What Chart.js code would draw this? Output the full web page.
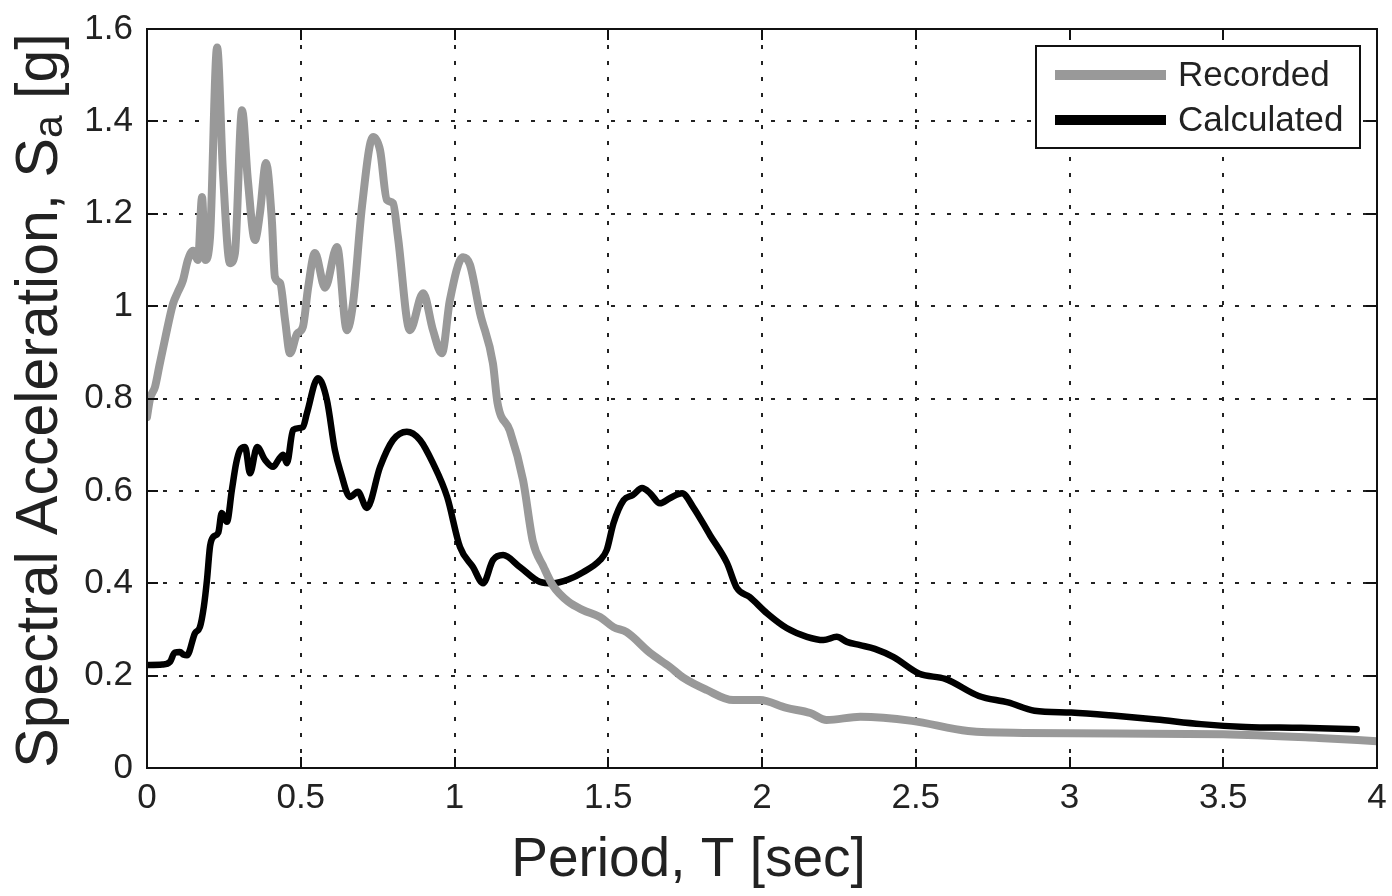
<!DOCTYPE html>
<html>
<head>
<meta charset="utf-8">
<title>Response spectra</title>
<script src="https://cdn.jsdelivr.net/npm/chart.js@4.4.0/dist/chart.umd.min.js"></script>
<style>
  html, body { margin: 0; padding: 0; background: #fff; }
  #wrap { width: 1392px; height: 896px; }
</style>
</head>
<body>
<div id="wrap"><canvas id="spectra" width="1392" height="896"></canvas></div>
<script>
// period [sec] and spectral acceleration [g], recorded motion
const recordedT = [
  0, 0.01, 0.026, 0.04, 0.059, 0.085, 0.1, 0.117, 0.133, 0.15, 0.166, 0.179, 0.189, 0.205,
  0.228, 0.247, 0.27, 0.286, 0.309, 0.328, 0.351, 0.367, 0.387, 0.406, 0.416, 0.433, 0.449,
  0.465, 0.488, 0.507, 0.524, 0.546, 0.579, 0.618, 0.65, 0.67, 0.699, 0.735, 0.758, 0.78,
  0.8, 0.816, 0.855, 0.898, 0.93, 0.959, 0.985, 1.028, 1.05, 1.083, 1.125, 1.14, 1.18, 1.223,
  1.255, 1.29, 1.32, 1.37, 1.418, 1.473, 1.517, 1.56, 1.636, 1.7, 1.745, 1.82, 1.906, 1.993,
  2.08, 2.157, 2.21, 2.32, 2.488, 2.67, 2.85, 3.5, 3.81, 4.0
];
const recordedSa = [
  0.76, 0.8, 0.825, 0.87, 0.93, 1.006, 1.03, 1.056, 1.1, 1.12, 1.1, 1.236, 1.1, 1.15,
  1.56, 1.29, 1.093, 1.115, 1.424, 1.273, 1.143, 1.2, 1.31, 1.186, 1.063, 1.05, 0.97,
  0.898, 0.94, 0.955, 1.04, 1.115, 1.04, 1.128, 0.948, 1.006, 1.215, 1.366, 1.337, 1.23,
  1.223, 1.15, 0.948, 1.028, 0.948, 0.898, 1.013, 1.106, 1.09, 0.985, 0.876, 0.79, 0.73, 0.623,
  0.49, 0.435, 0.395, 0.36, 0.342, 0.327, 0.305, 0.294, 0.249, 0.219, 0.195, 0.169, 0.147, 0.147,
  0.13, 0.119, 0.104, 0.111, 0.102, 0.08, 0.076, 0.073, 0.065, 0.058
];

// calculated response
const calculatedT = [
  0, 0.05, 0.075, 0.09, 0.107, 0.12, 0.13, 0.156, 0.172, 0.185, 0.195, 0.205, 0.215, 0.232,
  0.243, 0.26, 0.276, 0.29, 0.302, 0.319, 0.335, 0.358, 0.384, 0.41, 0.43, 0.443, 0.455,
  0.475, 0.507, 0.52, 0.556, 0.585, 0.611, 0.63, 0.66, 0.686, 0.715, 0.758, 0.8, 0.845,
  0.888, 0.93, 0.976, 1.018, 1.06, 1.093, 1.125, 1.158, 1.213, 1.278, 1.32, 1.37, 1.418,
  1.473, 1.495, 1.517, 1.55, 1.58, 1.61, 1.636, 1.668, 1.7, 1.74, 1.776, 1.831, 1.886,
  1.918, 1.96, 2.016, 2.08, 2.146, 2.2, 2.243, 2.276, 2.319, 2.367, 2.428, 2.512, 2.596,
  2.705, 2.8, 2.886, 3.006, 3.15, 3.283, 3.428, 3.572, 3.753, 3.934
];
const calculatedSa = [
  0.223, 0.224, 0.23, 0.25, 0.251, 0.245, 0.244, 0.292, 0.305, 0.35, 0.407, 0.48, 0.5, 0.51,
  0.552, 0.533, 0.602, 0.66, 0.688, 0.695, 0.638, 0.695, 0.667, 0.652, 0.67, 0.678, 0.66,
  0.732, 0.738, 0.768, 0.844, 0.797, 0.688, 0.64, 0.587, 0.598, 0.563, 0.652, 0.71, 0.728,
  0.71, 0.66, 0.587, 0.478, 0.435, 0.4, 0.45, 0.461, 0.435, 0.403, 0.4, 0.408, 0.424,
  0.45, 0.472, 0.53, 0.58, 0.591, 0.606, 0.595, 0.573, 0.584, 0.595, 0.565, 0.504, 0.444,
  0.39, 0.37, 0.335, 0.303, 0.284, 0.277, 0.284, 0.273, 0.266, 0.258, 0.24, 0.204, 0.193,
  0.156, 0.142, 0.124, 0.12, 0.113, 0.105, 0.095, 0.089, 0.087, 0.084
];

const periodTicks = [0, 0.5, 1, 1.5, 2, 2.5, 3, 3.5, 4];
const accelTicks = [0, 0.2, 0.4, 0.6, 0.8, 1, 1.2, 1.4, 1.6];

const FONT = "'Liberation Sans', Arial, Helvetica, sans-serif";

const toPoints = (xs, ys) => xs.map((x, i) => ({ x, y: ys[i] }));

// matlab-like frame with inward ticks on all four sides
const boxFrame = {
  id: 'boxFrame',
  afterDraw(chart) {
    const { ctx, chartArea: a, scales } = chart;
    const len = 11;
    ctx.save();
    ctx.strokeStyle = '#111';
    ctx.lineWidth = 2;
    ctx.beginPath();
    periodTicks.forEach(v => {
      const px = Math.round(scales.x.getPixelForValue(v));
      ctx.moveTo(px, a.bottom); ctx.lineTo(px, a.bottom - len);
      ctx.moveTo(px, a.top); ctx.lineTo(px, a.top + len);
    });
    accelTicks.forEach(v => {
      const py = Math.round(scales.y.getPixelForValue(v));
      ctx.moveTo(a.left, py); ctx.lineTo(a.left + len, py);
      ctx.moveTo(a.right, py); ctx.lineTo(a.right - len, py);
    });
    ctx.stroke();
    ctx.strokeRect(a.left, a.top, a.right - a.left, a.bottom - a.top);
    ctx.restore();
  }
};

// boxed legend in the top right corner
const boxLegend = {
  id: 'boxLegend',
  afterDraw(chart) {
    const { ctx, chartArea: a } = chart;
    const w = 324, h = 102;
    const x0 = a.right - 17 - w, y0 = a.top + 17;
    ctx.save();
    ctx.fillStyle = '#fff';
    ctx.fillRect(x0, y0, w, h);
    ctx.strokeStyle = '#111';
    ctx.lineWidth = 2;
    ctx.strokeRect(x0, y0, w, h);
    ctx.font = '35px ' + FONT;
    ctx.textBaseline = 'middle';
    chart.data.datasets.forEach((ds, i) => {
      const y = y0 + 29 + i * 45;
      ctx.strokeStyle = ds.borderColor;
      ctx.lineWidth = 10;
      ctx.beginPath();
      ctx.moveTo(x0 + 19, y);
      ctx.lineTo(x0 + 130, y);
      ctx.stroke();
      ctx.fillStyle = '#222';
      ctx.fillText(ds.label, x0 + 142, y + 1);
    });
    ctx.restore();
  }
};

// vertical axis title with a subscript "a"
const yTitle = {
  id: 'yTitle',
  afterDraw(chart) {
    const { ctx, chartArea: a } = chart;
    const big = '59px ' + FONT, small = '41px ' + FONT;
    const parts = [
      { t: 'Spectral Acceleration, S', f: big, dy: 0 },
      { t: 'a', f: small, dy: 5 },
      { t: ' [g]', f: big, dy: 0 }
    ];
    let total = 0;
    parts.forEach(p => { ctx.font = p.f; p.w = ctx.measureText(p.t).width; total += p.w; });
    ctx.save();
    ctx.translate(57, (a.top + a.bottom) / 2 + 2);
    ctx.rotate(-Math.PI / 2);
    ctx.fillStyle = '#222';
    ctx.textBaseline = 'alphabetic';
    let x = -total / 2;
    parts.forEach(p => { ctx.font = p.f; ctx.fillText(p.t, x, p.dy); x += p.w; });
    ctx.restore();
  }
};

const fmt = v => String(Math.round(v * 10) / 10);

new Chart(document.getElementById('spectra'), {
  type: 'line',
  data: {
    datasets: [
      {
        label: 'Recorded',
        data: toPoints(recordedT, recordedSa),
        borderColor: '#999999',
        borderWidth: 8,
        borderJoinStyle: 'round',
        borderCapStyle: 'round',
        pointRadius: 0,
        cubicInterpolationMode: 'monotone'
      },
      {
        label: 'Calculated',
        data: toPoints(calculatedT, calculatedSa),
        borderColor: '#000000',
        borderWidth: 6.5,
        borderJoinStyle: 'round',
        borderCapStyle: 'round',
        pointRadius: 0,
        cubicInterpolationMode: 'monotone'
      }
    ]
  },
  options: {
    responsive: false,
    animation: false,
    devicePixelRatio: 1,
    layout: { padding: { left: 0, top: 29, right: 15, bottom: 0 } },
    scales: {
      x: {
        type: 'linear',
        min: 0,
        max: 4,
        afterBuildTicks: s => { s.ticks = periodTicks.map(value => ({ value })); },
        afterFit: s => {
          s.height = 60;
          // labels at the ends may overhang the frame
          s.paddingLeft = 0;
          s.paddingRight = 0;
        },
        grid: { color: '#222', lineWidth: 2, drawTicks: false },
        border: { display: false, dash: [4, 12] },
        ticks: {
          font: { family: FONT, size: 35 },
          color: '#222',
          padding: 9,
          maxRotation: 0,
          autoSkip: false,
          callback: v => fmt(v)
        }
      },
      y: {
        min: 0,
        max: 1.6,
        afterBuildTicks: s => { s.ticks = accelTicks.map(value => ({ value })); },
        afterFit: s => {
          s.width = 147;
          s.paddingTop = 0;
          s.paddingBottom = 0;
        },
        grid: { color: '#222', lineWidth: 2, drawTicks: false },
        border: { display: false, dash: [4, 12] },
        ticks: {
          font: { family: FONT, size: 35 },
          color: '#222',
          padding: 14,
          autoSkip: false,
          callback: v => fmt(v)
        }
      }
    },
    plugins: {
      legend: { display: false },
      tooltip: { enabled: false },
      title: {
        display: true,
        position: 'bottom',
        text: 'Period, T [sec]',
        color: '#222',
        font: { family: FONT, size: 55, weight: 'normal', lineHeight: 1.2 },
        padding: { top: 0, bottom: 2 }
      }
    }
  },
  plugins: [boxFrame, boxLegend, yTitle]
});
</script>
</body>
</html>
